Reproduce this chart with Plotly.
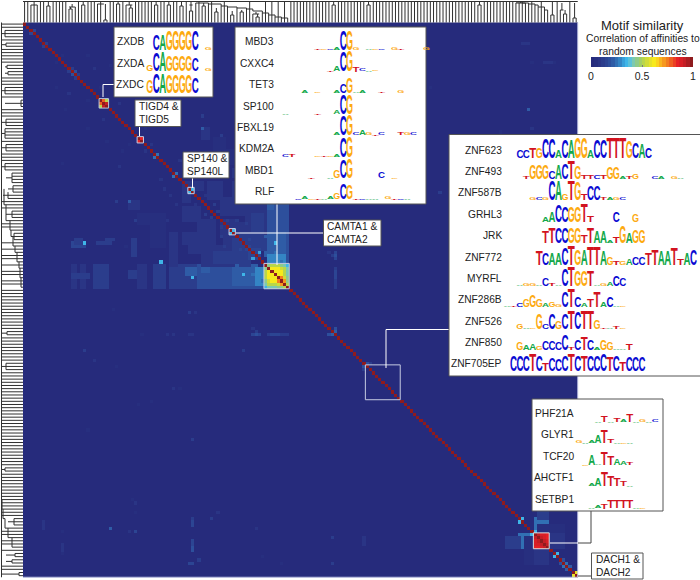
import plotly.graph_objects as go

FONT = "Liberation Sans"
N = 175
HEAT_L, HEAT_T, CELL = 23.0, 22.5, 3.17

# ---------- colour levels of the similarity scale ----------
scale_levels = ["#262b7c","#272f7f","#2a3585","#2b3d8c","#2c4593","#2d4f9c","#2f5ca6","#3170b4","#3485c4","#38a0da",
                "#3fb6e8","#5cc1d9","#7cc9b0","#8fcb8a","#a3cf66","#b9d64a","#d0dc38","#e6e22a","#f7ea1c","#fbd31e",
                "#f9b41f","#f6981e","#f27c20","#ee5f22","#eb4023","#e62126","#d81f26","#c41e25","#aa1d22","#8e1b1e"]
base_similarity = 0.02

# ---------- matrix content: (row0, row1, col0, col1, value), mirrored about the diagonal ----------
smear_patches = [
    (76,83,55,60,.17),(76,83,60,66,.18),(76,83,66,70,.2),(76,83,70,73,.23),(77,83,73,75,.28),(76,78,56,58,.22),
    (76,83,15,16,.09),(76,83,18,19,.09),(79,80,15,20,.11),(76,83,22,26,.1),(79,83,24,26,.13),(78,80,33,35,.13),
    (76,83,36,38,.08),(76,83,41,44,.11),(76,83,46,47,.1),(76,83,48,49,.13),(76,83,50,54,.11),(77,79,51,54,.2),
    (83,83,22,26,.13),(83,83,55,75,.18),(69,70,15,19,.14),(68,69,16,18,.1),(69,69,23,27,.12),(68,68,26,28,.1),
    (68,72,34,35,.1),(60,63,36,44,.06),(64,70,40,44,.06),(66,76,46,48,.07),(65,70,56,60,.08),(70,76,56,62,.09),
    (62,76,63,66,.09),(66,76,68,71,.11),(70,74,71,73,.15),(55,60,62,66,.07),(60,70,72,75,.11),(50,56,50,52,.07),(50,55,58,62,.07),
    (66,69,50,55,.08),(70,72,52,56,.08),(71,73,34,35,.11),(56,58,33,36,.09),
]
matrix_spots = [
    (69,19,.36),(75,43,.36),(80,53,.36),(79,69,.34),(78,73,.34),(74,72,.3),(72,74,.3),(69,79,.34),(73,78,.28),(70,78,.22),
    (72,79,.26),(74,80,.28),(75,81,.26),(56,33,.2),(60,36,.16),(16,15,.16),(15,16,.18),(15,14,.1),(16,17,.1),(2,3,.14),(6,7,.12),(47,48,.24),
    (41,42,.24),(29,56,.1),(35,62,.1),(30,45,.09),(43,49,.07),(10,20,.06),(45,62,.08),(96,72,.08),(97,73,.1),(98,72,.16),(98,73,.17),(98,74,.15),
    (98,77,.13),(98,78,.14),(98,79,.14),(98,80,.14),(98,81,.13),(98,82,.12),(98,83,.1),(98,52,.08),(98,53,.07),(98,47,.07),(98,45,.08),(98,37,.06),
    (97,98,.22),(98,97,.2),(96,98,.18),(107,108,.17),(108,107,.17),(109,107,.12),(91,52,.1),(91,54,.09),(103,19,.1),(103,69,.11),
    (131,53,.11),(115,47,.08),(115,49,.06),(128,20,.05),(119,40,.05),(156,59,.13),(154,61,.08),(159,27,.2),(160,35,.16),(160,33,.09),
    (162,97,.12),(170,97,.12),(170,52,.15),(170,53,.15),(169,55,.12),(157,53,.16),(158,53,.14),(156,53,.1),(164,53,.14),(165,53,.18),
    (166,53,.17),(163,53,.14),(157,6,.09),(158,6,.09),(159,6,.08),(164,12,.07),(165,12,.08),(166,12,.08),(167,12,.06),(160,12,.06),
    (106,22,.07),(108,29,.05),(120,36,.05),(170,81,.06),(159,73,.07),(162,107,.08),(163,107,.07),(164,107,.07),(168,75,.05),
    (150,34,.06),(151,35,.07),(154,35,.05),(22,14,.07),(27,13,.06),(33,20,.05),(37,26,.06),(40,31,.06),(44,12,.05),(52,44,.07),
    (36,60,.05),(32,70,.05),(28,90,.04),(25,30,.07),(38,40,.08),(33,38,.06),(46,54,.07),(48,57,.08),(54,57,.09),(57,60,.1),(59,61,.12),
    (62,64,.13),(62,67,.1),(68,71,.14),(63,70,.1),(58,66,.08),(12,10,.05),(20,24,.06),
]
phf_halo_patches = [
    (161,165,156,160,.24),(157,160,161,165,.25),(160,160,161,165,.34),(159,160,162,164,.31),(152,156,162,165,.12),(161,165,166,169,.11),
    (166,170,161,165,.08),(162,170,158,160,.06),
]
phf_block = [[1,.9,.87,.88,.86],[.9,1,.91,.88,.85],[.87,.91,1,.9,.87],[.88,.88,.9,1,.92],[.86,.85,.87,.92,1]]
cg_block = [[1,.45,.5,.5,.5,.45,.4,.35],[.45,1,.62,.62,.6,.55,.5,.42],[.5,.62,1,.62,.62,.6,.52,.4],[.5,.62,.62,1,.63,.6,.5,.42],
            [.5,.6,.62,.63,1,.76,.55,.45],[.45,.55,.6,.6,.76,1,.7,.45],[.4,.5,.52,.5,.55,.7,1,.5],[.35,.42,.4,.42,.45,.45,.5,1]]
zxd_block = [[1,.78,.5],[.78,1,.92],[.5,.92,1]]
tigd_block = [[1,.86],[.86,1]]
sp140_block = [[1,.36],[.36,1]]
camta_block = [[1,.34],[.34,1]]
dach_block = [[1,.58],[.58,1]]
near_diag_pairs = [(156,157,.36),(167,168,.36),(170,171,.26),(169,170,.18),(171,172,.2)]
block_starts = {"zxd":24,"tigd":36,"sp140":52,"camta":65,"cg":76,"phf":161,"dach":173}

# ---------- dendrogram merges: (first leaf, last leaf, depth px, parent depth px) ----------
top_merges = [(2,4,5,2),(7,8,6,2),(14,16,7,4),(14,15,9,7),(18,19,5,2),(23,25,4,2),(25,26,20,4),(29,30,4,2),(32,34,5,2),(33,34,8,5),
              (41,42,5,2),(45,46,5,2),(49,50,6,2),(52,53,5,2),(52,53,11,5),(56,57,6,3),(60,61,12,8),(65,66,15,11),(68,69,12,10),(72,74,14,12),(73,74,17,14),
              (97,98,5,1),(108,109,5,1),(143,144,5,1),(155,158,3,1)]
top_ladder_leaf = [54,58,62,64,67,70,72,75,77,79,81,83]
top_ladder_y = [3,4,6,7,8,9,11,13,15,17,18,20]
top_ladder2_leaf = [155,157,159,161,162,164,165]
top_ladder2_y = [2,3,4,5,7,10,20]
top_tail_merges = [(166,167,15,1),(169,170,10,3),(170,171,14,10),(173,174,18,3)]
left_merges = [(2,4,5,2),(6,7,6,2),(13,14,7,5),(15,16,8,5),(20,22,5,2),(24,26,21,5),(30,32,6,2),(33,36,5,2),(38,40,6,2),(44,46,5,2),
               (47,50,12,6),(51,53,13,8),(53,55,8,3),(59,61,12,6),(66,68,14,11),(97,98,7,2),(107,109,6,2),(140,141,5,1),(156,158,14,8),(167,168,15,6),(169,170,12,6),(173,174,19,2)]
left_ladder_row = [52,57,62,65,67,70,72,75,77,80,83]
left_ladder_x = [4,6,10,11,13,15,17,19,20,21,21]
left_ladder2_row = [150,153,156,159,162,165]
left_ladder2_x = [2,3,5,8,12,17]

# ---------- motif logos: letters per column and letter height in px ----------
zxdb_seq, zxdb_h = " CAGGGGC G", [0,15,15,19,19,19,19,20,0,3]
zxda_seq, zxda_h = "GCAGGGGC G", [6,18,19,16,16,16,16,13,0,3]
zxdc_seq, zxdc_h = "GCAGGGGC", [13,19,20,18,18,18,18,16]
mbd3_seq, mbd3_h = "     TGCACGG AGC GT   G", [0,0,0,0,0,1,1,1,3,19,19,3,0,1,1,1,0,2,1,0,0,0,2]
cxxc4_seq, cxxc4_h = "       TACGTCAG", [0,0,0,0,0,0,0,1,5,20,20,5,2,1,1]
tet3_seq, tet3_h = "   A G  ACGAA  T  G", [0,0,0,3,0,1,0,0,3,9,15,1,3,0,0,1,0,0,3]
sp100_seq, sp100_h = "A    T  ACG", [1,0,0,0,0,1,0,0,4,19,19]
fbxl19_seq, fbxl19_h = "        ACGCAGTC  TGC", [0,0,0,0,0,0,0,0,2,20,20,2,5,2,1,2,0,0,2,2,2]
kdm2a_seq, kdm2a_h = "CT   GTGACG", [2,2,0,0,0,1,1,1,3,20,20]
mbd1_seq, mbd1_h = "    T  AGCG    C G", [0,0,0,0,1,0,0,1,7,18,19,0,0,0,0,6,0,1]
rlf_seq, rlf_h = "  CAGTAAGCGTCAA GTCA", [0,0,1,2,1,1,1,2,6,15,14,1,1,1,1,0,2,1,1,1]
znf623_seq, znf623_h = "  CCTGCCACAGGACCTTTGCAC", [0,0,8,8,10,10,20,20,8,18,18,20,20,8,18,18,21,21,21,17,16,14,10]
znf493_seq, znf493_h = "   TGGGCACTGTTCTGGATG  CA GA", [0,0,0,3,14,14,14,7,14,15,18,13,4,4,4,4,12,11,2,3,5,0,0,2,2,0,3,1]
znf587b_seq, znf587b_h = "    GCGCAGTGTCCTAGC", [0,0,0,0,2,3,2,20,20,6,20,18,6,14,14,2,2,2,2]
grhl3_seq, grhl3_h = "      AACCGGTT   C  G", [0,0,0,0,0,0,5,10,17,15,15,15,18,6,0,0,0,10,0,0,7]
jrk_seq, jrk_h = "      TTCCGGTTAAATGAGG", [0,0,0,0,0,0,12,16,15,15,16,16,7,15,12,12,2,6,17,10,13,13]
znf772_seq, znf772_h = "     TCAACTGATTAGTGACCTTAATTAC", [0,0,0,0,0,14,12,12,12,17,20,15,15,18,18,14,7,4,4,6,8,8,11,15,14,14,17,6,12,16]
myrfl_seq, myrfl_h = "  AGGACTACTGGTAGACC", [0,0,1,2,3,1,8,2,1,17,20,15,15,15,1,2,4,10,8]
znf286b_seq, znf286b_h = "ATCGGGAGGCTCATTACAG", [1,1,4,7,11,8,4,5,3,16,18,10,4,8,16,5,10,1,1]
znf526_seq, znf526_h = "  GAGGCCGCTCTTGTATG", [0,0,5,1,1,15,5,15,7,16,18,17,18,18,9,1,1,2,1]
znf850_seq, znf850_h = "  GAAGCCCCTCTCAGGAAT", [0,0,8,5,6,4,9,9,7,15,3,10,13,10,3,10,7,1,1,6]
znf705ep_seq, znf705ep_h = " CCCTCTCCCTCTCCCTCTCCC", [0,16,16,16,17,15,8,13,12,15,17,15,15,15,15,17,14,15,9,14,14,14]
phf21a_seq, phf21a_h = "   ATATATAGAC", [0,0,0,1,6,1,4,3,7,1,2,1,2]
glyr1_seq, glyr1_h = "GAAATTAGA", [3,1,3,7,13,4,1,1,1]
tcf20_seq, tcf20_h = " GAATTAAT", [0,1,10,1,13,9,6,4,2]
ahctf1_seq, ahctf1_h = "  AATTTTA", [0,0,2,7,14,10,8,5,1]
setbp1_seq, setbp1_h = "  AATTTTTAG", [0,0,1,2,5,7,7,8,8,1,1]

letter_color = {"A":"#12a84a","C":"#0a0ad2","G":"#fdaa10","T":"#d2131f"}
zxd_labels = ["ZXDB","ZXDA","ZXDC"]
cg_labels = ["MBD3","CXXC4","TET3","SP100","FBXL19","KDM2A","MBD1","RLF"]
znf_labels = ["ZNF623","ZNF493","ZNF587B","GRHL3","JRK","ZNF772","MYRFL","ZNF286B","ZNF526","ZNF850","ZNF705EP"]
phf_labels = ["PHF21A","GLYR1","TCF20","AHCTF1","SETBP1"]

# ---------- build matrix ----------
z = [[base_similarity]*N for _ in range(N)]
def put(r, c, v):
    z[r][c] = v; z[c][r] = v
for r0, r1, c0, c1, v in smear_patches + phf_halo_patches:
    for r in range(r0, r1+1):
        for c in range(c0, c1+1):
            put(r, c, v)
for r, c, v in matrix_spots:
    put(r, c, v)
for a, b, v in near_diag_pairs:
    put(a, b, v)
for name, blk in (("zxd",zxd_block),("tigd",tigd_block),("sp140",sp140_block),("camta",camta_block),("cg",cg_block),("phf",phf_block),("dach",dach_block)):
    s = block_starts[name]
    for i, row in enumerate(blk):
        for j, v in enumerate(row):
            z[s+i][s+j] = v
for i in range(N):
    z[i][i] = 1

n_lv = len(scale_levels)
colorscale = []
for i, col in enumerate(scale_levels):
    colorscale += [[i/n_lv, col], [(i+1)/n_lv, col]]

fig = go.Figure()
fig.add_trace(go.Heatmap(
    z=z, x0=HEAT_L+CELL/2, dx=CELL, y0=HEAT_T+CELL/2, dy=CELL, zmin=0, zmax=1, colorscale=colorscale, hoverinfo="skip",
    colorbar=dict(orientation="h", x=591/700, xanchor="left", y=1-57/580, yanchor="top", len=102, lenmode="pixels",
                  thickness=10, xpad=0, ypad=0, outlinewidth=0, tickvals=[0,.5,1], ticktext=["0","0.5","1"],
                  ticks="inside", ticklen=2, tickcolor="#777", tickfont=dict(family=FONT, size=10.5, color="#222"))))

def line(xs, ys, color="#ffffff", width=1.0):
    fig.add_trace(go.Scatter(x=xs, y=ys, mode="lines", line=dict(color=color, width=width), hoverinfo="skip", showlegend=False))
def box(x0, y0, x1, y1):
    fig.add_trace(go.Scatter(x=[x0,x1,x1,x0,x0], y=[y0,y0,y1,y1,y0], mode="lines", fill="toself", fillcolor="#ffffff",
                             line=dict(color="#555555", width=1), hoverinfo="skip", showlegend=False))
def outline(start, n, color="#c6cbe2"):
    a, b = HEAT_L + start*CELL, HEAT_L + (start+n)*CELL
    a2, b2 = HEAT_T + start*CELL, HEAT_T + (start+n)*CELL
    line([a,b,b,a,a],[a2,a2,b2,b2,a2],color=color,width=1)

# heat map frame edge
line([HEAT_L,HEAT_L+N*CELL,HEAT_L+N*CELL],[HEAT_T+N*CELL,HEAT_T+N*CELL,HEAT_T],"#c9cdea",1)

# ---------- dendrograms ----------
def dendrogram(merges, ladders, rail, horizontal):
    """horizontal=True: the leaves rise from the top edge of the matrix; False: they run left from its left edge."""
    depth = [rail]*N
    for a, b, d, p in merges:
        for i in range(a, b+1):
            depth[i] = max(depth[i], d)
    for leaves, ds in ladders:
        for lf, d in zip(leaves, ds):
            depth[lf] = max(depth[lf], d)
    edge = HEAT_T if horizontal else HEAT_L
    origin = HEAT_L if horizontal else HEAT_T
    pos = lambda i: origin + (i+.5)*CELL
    along, across = [], []
    for i in range(N):
        along += [pos(i), pos(i), None]
        across += [edge, depth[i], None]
    for a, b, d, p in merges:
        along += [pos(a), pos(b), None, (pos(a)+pos(b))/2, (pos(a)+pos(b))/2, None]
        across += [d, d, None, d, p, None]
    for leaves, ds in ladders:
        for k in range(len(leaves)-1):
            along += [pos(leaves[k]), pos(leaves[k+1]), pos(leaves[k+1]), None]
            across += [ds[k], ds[k], ds[k+1], None]
    along += [origin, origin+N*CELL, None]
    across += [rail, rail, None]
    if horizontal:
        line(along, across, "#303030", 1.0)
    else:
        line(across, along, "#303030", 1.0)

dendrogram(top_merges + top_tail_merges, [(top_ladder_leaf, top_ladder_y), (top_ladder2_leaf, top_ladder2_y)], 1.5, True)
dendrogram(left_merges, [(left_ladder_row, left_ladder_x), (left_ladder2_row, left_ladder2_x)], 1.5, False)

# ---------- cluster outlines and connectors ----------
outline(block_starts["zxd"],3,"#b9c6d8"); outline(block_starts["tigd"],2); outline(block_starts["sp140"],2); outline(block_starts["camta"],2)
outline(block_starts["cg"],8); outline(block_starts["phf"],5,"#dddddd"); outline(108,11)
line([103,103,114],[97,84.5,84.5]); line([139.5,139.5],[126,136]); line([192.5,192.5],[178,188])
line([277,277],[204,265]); line([236,323.5],[233,233]); line([386,386,449],[368,329.5,329.5])
line([550,578],[543,543]); line([578,591,591],[543,543,511],"#444444",1); line([578,591],[576,576],"#444444",1)

# ---------- callout boxes ----------
box(114,27,213,97); box(135,100,181,126.5); box(183,152,229,178); box(235,27,426,204)
box(323.5,220,381,246); box(449,134.5,701,376); box(532,399,663,511); box(591.5,553,643,579)

# ---------- logos ----------
def logo(name, seq, heights, x0, baseline, w):
    xs, ys, txt, sizes, cols = [], [], [], [], []
    for k, (ch, h) in enumerate(zip(seq, heights)):
        if ch == " " or h <= 0: continue
        s = h/0.70
        xs.append(x0+(k+.5)*w); ys.append(baseline+.25*s); txt.append(ch); sizes.append(s); cols.append(letter_color[ch])
    fig.add_trace(go.Scatter(x=xs, y=ys, text=txt, mode="text", name=name, textposition="top center", cliponaxis=False,
                             textfont=dict(family=FONT, size=sizes, color=cols, weight=700), hoverinfo="skip", showlegend=False))

zxd_y = [41.5,63,84.5]
for nm, s, h, y in zip(zxd_labels, (zxdb_seq,zxda_seq,zxdc_seq), (zxdb_h,zxda_h,zxdc_h), zxd_y):
    logo(nm, s, h, 146.5, y+8.5, 6.5)
cg_y = [41.5,63,84.5,106,127,148.5,170,191]
for nm, s, h, y in zip(cg_labels, (mbd3_seq,cxxc4_seq,tet3_seq,sp100_seq,fbxl19_seq,kdm2a_seq,mbd1_seq,rlf_seq),
                       (mbd3_h,cxxc4_h,tet3_h,sp100_h,fbxl19_h,kdm2a_h,mbd1_h,rlf_h), cg_y):
    logo(nm, s, h, 282.4, y+8.5, 6.4)
znf_y = [150,171,192,214,235,257,278,299,321,342,363]
for nm, s, h, y in zip(znf_labels, (znf623_seq,znf493_seq,znf587b_seq,grhl3_seq,jrk_seq,znf772_seq,myrfl_seq,znf286b_seq,znf526_seq,znf850_seq,znf705ep_seq),
                       (znf623_h,znf493_h,znf587b_h,grhl3_h,jrk_h,znf772_h,myrfl_h,znf286b_h,znf526_h,znf850_h,znf705ep_h), znf_y):
    logo(nm, s, h, 503.8, y+8, 6.43)
phf_y = [413,434,456,477,499]
for nm, s, h, y in zip(phf_labels, (phf21a_seq,glyr1_seq,tcf20_seq,ahctf1_seq,setbp1_seq),
                       (phf21a_h,glyr1_h,tcf20_h,ahctf1_h,setbp1_h), phf_y):
    logo(nm, s, h, 575.8, y+9.5, 6.35)

# ---------- text ----------
ann = []
def label(text, x, y, anchor="right", size=10.2, color="#222222"):
    ann.append(dict(text=text, x=x, y=y, xref="x", yref="y", xanchor=anchor, yanchor="middle", showarrow=False,
                    align="left" if anchor=="left" else ("center" if anchor=="center" else "right"),
                    font=dict(family=FONT, size=size, color=color)))
for t, y in zip(zxd_labels, zxd_y): label(t, 145.5, y)
for t, y in zip(cg_labels, cg_y): label(t, 275.5, y)
for t, y in zip(znf_labels, znf_y): label(t, 503.5, y)
for t, y in zip(phf_labels, phf_y): label(t, 575.5, y)
label("TIGD4 &<br>TIGD5", 136.5, 113, "left", 10.2)
label("SP140 &<br>SP140L", 184.5, 165, "left", 10.2)
label("CAMTA1 &<br>CAMTA2", 325, 233, "left", 10.2)
label("DACH1 &<br>DACH2", 593.5, 566, "left", 10.2)
label("Motif similarity", 642, 25, "center", 13)
label("Correlation of affinities to", 642.5, 38.5, "center", 10.3)
label("random sequences", 642.5, 51, "center", 10.3)

fig.update_layout(
    width=700, height=580, autosize=False, margin=dict(l=0, r=0, t=0, b=0), paper_bgcolor="#ffffff", plot_bgcolor="#ffffff",
    xaxis=dict(range=[0,700], visible=False, fixedrange=True, domain=[0,1]),
    yaxis=dict(range=[580,0], visible=False, fixedrange=True, domain=[0,1]),
    annotations=ann, showlegend=False)

# Logo letters are tall and narrow: squeeze each real text glyph to the column width.
post = """
document.body.style.margin='0';
document.querySelectorAll('.textpoint text').forEach(function(t){
  var cx=parseFloat(t.getAttribute('x'));
  var len=t.getComputedTextLength();
  if(len>0){var k=7.0/len;
    t.setAttribute('transform','translate('+cx+',0) scale('+k+',1) translate('+(-cx)+',0)');}
});
"""
fig.write_html("out.html", post_script=post, config={"displayModeBar": False})
